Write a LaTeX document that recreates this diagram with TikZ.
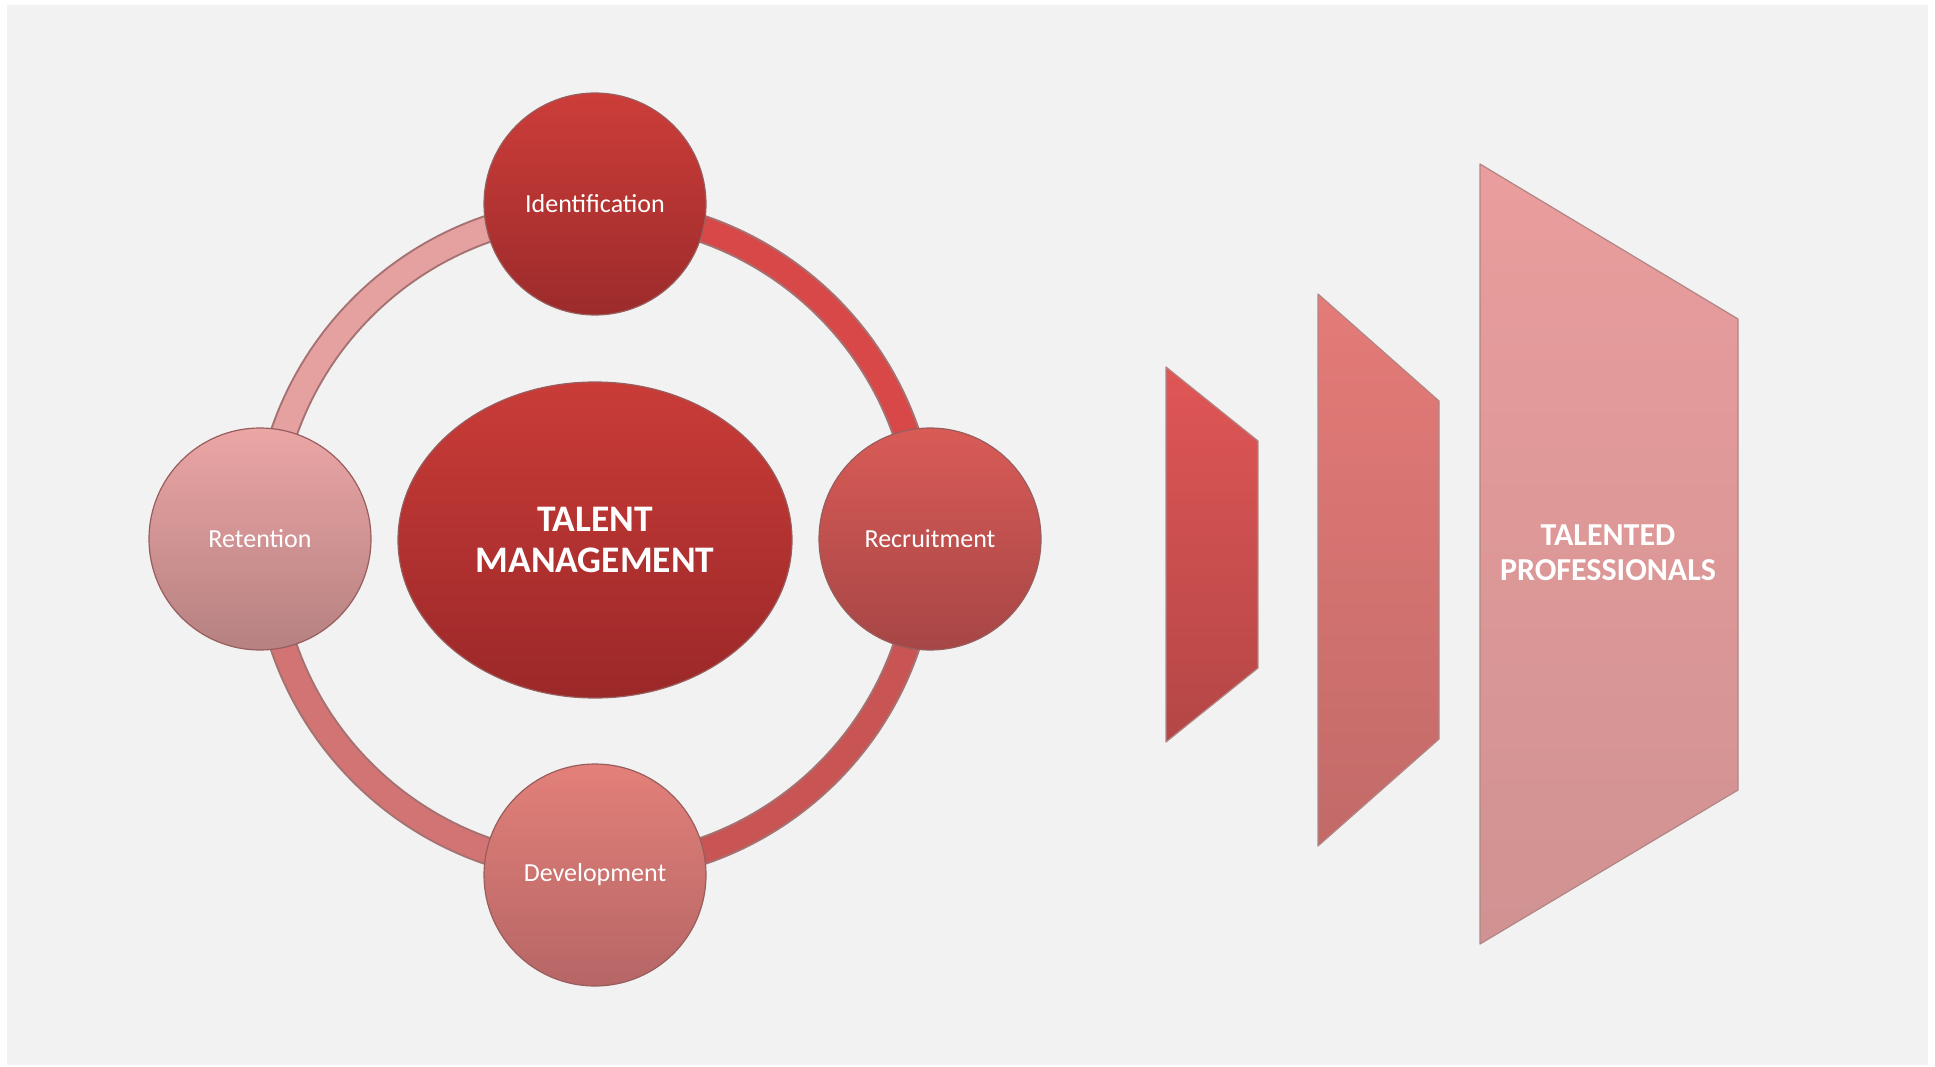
\documentclass[tikz,border=0pt]{standalone}
\usepackage{fontspec}
\setmainfont{Carlito}
\usetikzlibrary{shapes.geometric}

\definecolor{bgray}{HTML}{F2F2F2}
\definecolor{identtop}{HTML}{CC3D39}
\definecolor{identbot}{HTML}{9C2B2B}
\definecolor{recrtop}{HTML}{D95B56}
\definecolor{recrbot}{HTML}{A64646}
\definecolor{devtop}{HTML}{E38079}
\definecolor{devbot}{HTML}{B66666}
\definecolor{rettop}{HTML}{EBA5A5}
\definecolor{retbot}{HTML}{B68181}
\definecolor{hubtop}{HTML}{C93C38}
\definecolor{hubbot}{HTML}{9B2828}
\definecolor{edgedark}{HTML}{7E3434}
\definecolor{ringtl}{HTML}{E5A0A0}
\definecolor{ringtr}{HTML}{D94848}
\definecolor{ringbr}{HTML}{C95454}
\definecolor{ringbl}{HTML}{D37474}
\definecolor{paneltopa}{HTML}{E05656}
\definecolor{panelbota}{HTML}{B44646}
\definecolor{paneltopb}{HTML}{E47B78}
\definecolor{panelbotb}{HTML}{C26A68}
\definecolor{paneltopc}{HTML}{EA9D9D}
\definecolor{panelbotc}{HTML}{D09292}

\begin{document}
\begin{tikzpicture}
            [x=1pt, y=-1pt,
            stage/.style={circle, draw=edgedark!80, line width=1.2pt, minimum size=222pt, inner sep=0pt,
                text=white, font=\fontsize{26}{31}\selectfont},
            hub/.style={ellipse, draw=edgedark!80, line width=1.2pt, minimum width=394pt, minimum height=316pt,
                top color=hubtop, bottom color=hubbot, text=white, align=center,
                font=\bfseries\fontsize{37.5}{41}\selectfont},
            ring/.style={line width=28pt, edgedark!70},
            ringfill/.style={line width=24pt},
            panel/.style={draw=edgedark!60, line width=1.2pt, line join=round}]

            \useasboundingbox (0,0) rectangle (1935,1067);
            \fill[bgray] (7,5) rectangle (1928,1065);

            \coordinate (c) at (595,540);

            % ring behind the four stages
            \draw[ring] (c) ++(180:329) arc[start angle=180, end angle=360, radius=329];
            \draw[ring] (c) ++(0:329) arc[start angle=0, end angle=180, radius=329];
            \draw[ringfill, ringtl] (c) ++(180:329) arc[start angle=180, end angle=270, radius=329];
            \draw[ringfill, ringtr] (c) ++(270:329) arc[start angle=270, end angle=360, radius=329];
            \draw[ringfill, ringbr] (c) ++(0:329) arc[start angle=0, end angle=90, radius=329];
            \draw[ringfill, ringbl] (c) ++(90:329) arc[start angle=90, end angle=180, radius=329];

            \node[hub] (tm) at (c) {TALENT\\MANAGEMENT};

            \node[stage, top color=identtop, bottom color=identbot] (ident) at (595,204) {Identification};
            \node[stage, top color=recrtop, bottom color=recrbot] (recr) at (930,539) {Recruitment};
            \node[stage, top color=devtop, bottom color=devbot] (dev) at (595,875) {Development};
            \node[stage, top color=rettop, bottom color=retbot] (ret) at (260,539) {Retention};

            % three panels growing to the right
            \shade[panel, top color=paneltopa, bottom color=panelbota]
                (1166,367) -- (1258,441) -- (1258,668) -- (1166,742) -- cycle;
            \shade[panel, top color=paneltopb, bottom color=panelbotb]
                (1318,294) -- (1439,401) -- (1439,739) -- (1318,846) -- cycle;
            \shade[panel, top color=paneltopc, bottom color=panelbotc]
                (1480,164) -- (1738,319) -- (1738,790) -- (1480,944) -- cycle;

            \node[text=white, align=center, font=\bfseries\fontsize{32}{35}\selectfont] (tp) at (1608,553)
                {TALENTED\\PROFESSIONALS};

        \end{tikzpicture}
\end{document}
